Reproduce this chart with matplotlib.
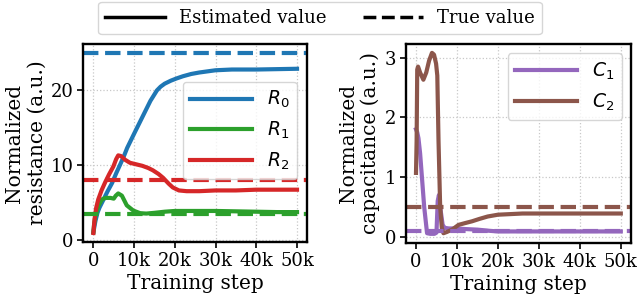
import numpy as np
import matplotlib
matplotlib.use('Agg')
import matplotlib.pyplot as plt
from matplotlib.lines import Line2D
from matplotlib.ticker import FuncFormatter

plt.rcParams['font.family'] = 'DejaVu Serif'
plt.rcParams['mathtext.fontset'] = 'dejavusans'
plt.rcParams['font.size'] = 13

# resistance (left panel)
r0_steps = [0, 500, 1000, 1500, 2500, 3500, 4600, 5600, 6600, 7500, 8300, 10000, 12000, 14000,
            15600, 16500, 17500, 19000, 20400, 22000, 24000, 26000, 30000, 34000, 40000, 50000]
r0_vals = [1.0, 2.5, 3.6, 4.3, 5.4, 6.5, 7.6, 8.9, 10.1, 11.2, 12.3, 14.2, 16.4, 18.6,
           20.0, 20.5, 20.9, 21.3, 21.6, 21.9, 22.2, 22.4, 22.7, 22.8, 22.8, 22.9]

r1_steps = [0, 200, 500, 1200, 2100, 3000, 4200, 5000, 5500, 6100, 7000, 8200, 9800, 11500,
            13000, 15000, 17500, 20000, 25000, 30000, 35000, 40000, 45000, 50000]
r1_vals = [1.0, 2.2, 3.2, 4.5, 5.4, 5.6, 5.6, 5.5, 5.9, 6.2, 5.9, 4.6, 3.9, 3.55,
           3.5, 3.6, 3.75, 3.85, 3.85, 3.85, 3.8, 3.75, 3.7, 3.7]

r2_steps = [0, 300, 700, 1200, 2000, 2900, 3900, 4900, 5600, 6100, 6800, 7800, 9000, 10500,
            12000, 13500, 14600, 16000, 17100, 18500, 19500, 21000, 22900, 26000, 30000,
            35000, 40000, 45000, 50000]
r2_vals = [0.9, 2.8, 4.3, 5.4, 6.6, 7.7, 8.8, 9.8, 10.8, 11.3, 11.2, 10.7, 10.3, 10.1,
           9.9, 9.6, 9.3, 8.8, 8.3, 7.5, 7.0, 6.6, 6.5, 6.5, 6.6, 6.6, 6.7, 6.7, 6.7]

r_true = [25.0, 3.5, 8.0]

# capacitance (right panel)
c1_steps = [0, 300, 600, 1000, 1500, 2000, 2700, 3500, 4500, 5000, 5300, 5600, 6000, 6500,
            7000, 8000, 10000, 12000, 15000, 18000, 20000, 25000, 30000, 40000, 50000]
c1_vals = [1.8, 1.75, 1.65, 1.4, 0.95, 0.5, 0.06, 0.05, 0.05, 0.07, 0.6, 0.7, 0.45, 0.2,
           0.15, 0.14, 0.14, 0.13, 0.12, 0.1, 0.09, 0.09, 0.09, 0.09, 0.09]

c2_steps = [0, 150, 300, 500, 1000, 1800, 2500, 3200, 3900, 4400, 4900, 5200, 5500, 5900,
            6300, 6700, 7500, 8800, 10400, 12000, 13700, 15500, 17500, 20000, 23000, 26000,
            30000, 35000, 40000, 45000, 50000]
c2_vals = [1.07, 1.6, 2.8, 2.85, 2.75, 2.63, 2.75, 2.95, 3.08, 3.05, 2.9, 2.7, 1.6, 0.5,
           0.15, 0.06, 0.08, 0.12, 0.2, 0.23, 0.26, 0.3, 0.34, 0.37, 0.38, 0.39,
           0.39, 0.39, 0.39, 0.39, 0.39]

c_true = [0.1, 0.5]

x_ticks = [0, 10000, 20000, 30000, 40000, 50000]
LW = 3


def kfmt(v, pos):
    return '0' if v == 0 else '%dk' % (v / 1000)


def style(ax):
    ax.grid(True, linestyle=':', color='#c8c8c8', linewidth=0.9)
    ax.set_axisbelow(True)
    for s in ax.spines.values():
        s.set_linewidth(1.7)
        s.set_color('black')
    ax.tick_params(direction='out', length=4, width=1.2, labelsize=13, pad=3)
    ax.set_xticks(x_ticks)
    ax.xaxis.set_major_formatter(FuncFormatter(kfmt))
    ax.set_xlabel('Training step', fontsize=14.5, labelpad=3)


fig = plt.figure(figsize=(6.4, 2.98), dpi=100)
ax1 = fig.add_axes([0.130, 0.188, 0.350, 0.664])
ax2 = fig.add_axes([0.634, 0.185, 0.352, 0.668])

cols_r = ['tab:blue', 'tab:green', 'tab:red']
for steps, vals, c, lab in zip([r0_steps, r1_steps, r2_steps], [r0_vals, r1_vals, r2_vals],
                               cols_r, ['$R_0$', '$R_1$', '$R_2$']):
    ax1.plot(steps, vals, color=c, lw=LW, label=lab)
for v, c in zip(r_true, cols_r):
    ax1.axhline(v, color=c, lw=LW, ls='--')
ax1.set_yticks([0, 10, 20])
ax1.set_ylabel('Normalized\nresistance (a.u.)', fontsize=14.5, labelpad=3)
style(ax1)
ax1.legend(loc='upper right', bbox_to_anchor=(0.955, 0.81), borderaxespad=0,
           handlelength=3.3, fontsize=13.5)

cols_c = ['tab:purple', 'tab:brown']
for steps, vals, c, lab in zip([c1_steps, c2_steps], [c1_vals, c2_vals],
                               cols_c, ['$C_1$', '$C_2$']):
    ax2.plot(steps, vals, color=c, lw=LW, label=lab)
for v, c in zip(c_true, cols_c):
    ax2.axhline(v, color=c, lw=LW, ls='--')
ax2.set_yticks([0, 1, 2, 3])
ax2.set_ylabel('Normalized\ncapacitance (a.u.)', fontsize=14.5, labelpad=3)
style(ax2)
ax2.legend(loc='upper right', handlelength=3.3, fontsize=13.5)

handles = [Line2D([], [], color='black', lw=2.5, ls='-'),
           Line2D([], [], color='black', lw=2.5, ls='--')]
fig.legend(handles, ['Estimated value', 'True value'], loc='upper center',
           bbox_to_anchor=(0.5, 1.0), ncol=2, handlelength=3.3, fontsize=13,
           columnspacing=2.0, borderaxespad=0.1)

fig.savefig('out.png', dpi=100)
